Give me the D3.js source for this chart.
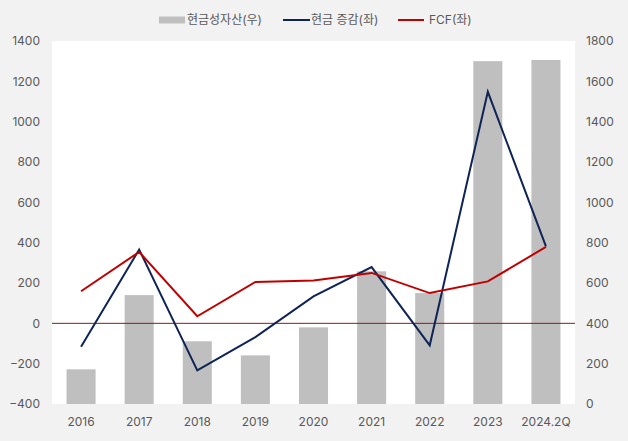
<!DOCTYPE html>
<html><head><meta charset="utf-8">
<script src="https://cdn.jsdelivr.net/npm/d3@7"></script>
<style>
html,body{margin:0;padding:0;background:#f2f2f2;}
text{font-family:Inter,"Noto Sans CJK KR","Noto Sans",sans-serif;}
</style></head>
<body>
<svg id="c" width="628" height="441"></svg>
<script>
const categories = ["2016","2017","2018","2019","2020","2021","2022","2023","2024.2Q"];
const cashAssets = [172, 540, 311, 241, 380, 658, 550, 1700, 1706];   // 현금성자산(우)
const cashChange = [-116, 366, -233, -68, 134, 279, -109, 1148, 382]; // 현금 증감(좌)
const fcf = [159, 354, 35, 205, 213, 250, 150, 208, 379];             // FCF(좌)
const leftTicks = [-400,-200,0,200,400,600,800,1000,1200,1400];
const rightTicks = [0,200,400,600,800,1000,1200,1400,1600,1800];
const legendLabels = ["현금성자산(우)", "현금 증감(좌)", "FCF(좌)"];

const svg = d3.select("#c");
const m = {l:52, r:575, t:41, b:404};
svg.append("rect").attr("width",628).attr("height",441).attr("fill","#f2f2f2");
svg.append("rect").attr("x",m.l).attr("y",m.t).attr("width",m.r-m.l).attr("height",m.b-m.t).attr("fill","#fff");

const x = d3.scaleBand().domain(categories).range([m.l,m.r]).paddingInner(0.5).paddingOuter(0.25);
const yL = d3.scaleLinear().domain([-400,1400]).range([m.b,m.t]);
const yR = d3.scaleLinear().domain([0,1800]).range([m.b,m.t]);

const textColor = "#595959";
const fs = "12px";
svg.append("g").selectAll("rect").data(categories).join("rect")
  .attr("x",d=>x(d)).attr("width",x.bandwidth())
  .attr("y",(d,i)=>yR(cashAssets[i])).attr("height",(d,i)=>yR(0)-yR(cashAssets[i]))
  .attr("fill","#bfbfbf");

svg.append("line").attr("x1",m.l).attr("x2",m.r).attr("y1",yL(0)).attr("y2",yL(0))
  .attr("stroke","#8b1a1a").attr("stroke-width",1);

const cx = d=>x(d)+x.bandwidth()/2;
const line = d3.line().x((d,i)=>cx(categories[i])).y(d=>yL(d));
svg.append("path").datum(cashChange).attr("d",line).attr("fill","none").attr("stroke","#0f2456").attr("stroke-width",2);
svg.append("path").datum(fcf).attr("d",line).attr("fill","none").attr("stroke","#c00000").attr("stroke-width",2);

const axL = d3.axisLeft(yL).tickValues(leftTicks).tickFormat(d3.format("d")).tickSize(0).tickPadding(12);
const gL = svg.append("g").attr("transform",`translate(${m.l},0)`).call(axL);
gL.select(".domain").remove();
gL.selectAll("text").attr("fill",textColor).style("font-size",fs);

const axR = d3.axisRight(yR).tickValues(rightTicks).tickFormat(d3.format("d")).tickSize(0).tickPadding(11);
const gR = svg.append("g").attr("transform",`translate(${m.r},0)`).call(axR);
gR.select(".domain").remove();
gR.selectAll("text").attr("fill",textColor).style("font-size",fs);

const axB = d3.axisBottom(x).tickSize(0).tickPadding(13);
const gB = svg.append("g").attr("transform",`translate(0,${m.b})`).call(axB);
gB.select(".domain").remove();
gB.selectAll("text").attr("fill",textColor).style("font-size",fs);

const lg = svg.append("g");
const ly = 20;
lg.append("rect").attr("x",159).attr("y",ly-3.5).attr("width",26).attr("height",7).attr("fill","#bfbfbf");
lg.append("text").attr("x",187).attr("y",ly).attr("dy","0.35em").text(legendLabels[0]).attr("fill",textColor).style("font-size",fs);
lg.append("line").attr("x1",283).attr("x2",310).attr("y1",ly).attr("y2",ly).attr("stroke","#0f2456").attr("stroke-width",2);
lg.append("text").attr("x",311).attr("y",ly).attr("dy","0.35em").text(legendLabels[1]).attr("fill",textColor).style("font-size",fs);
lg.append("line").attr("x1",398).attr("x2",424).attr("y1",ly).attr("y2",ly).attr("stroke","#c00000").attr("stroke-width",2);
lg.append("text").attr("x",429).attr("y",ly).attr("dy","0.35em").text(legendLabels[2]).attr("fill",textColor).style("font-size",fs);
</script>
</body></html>
